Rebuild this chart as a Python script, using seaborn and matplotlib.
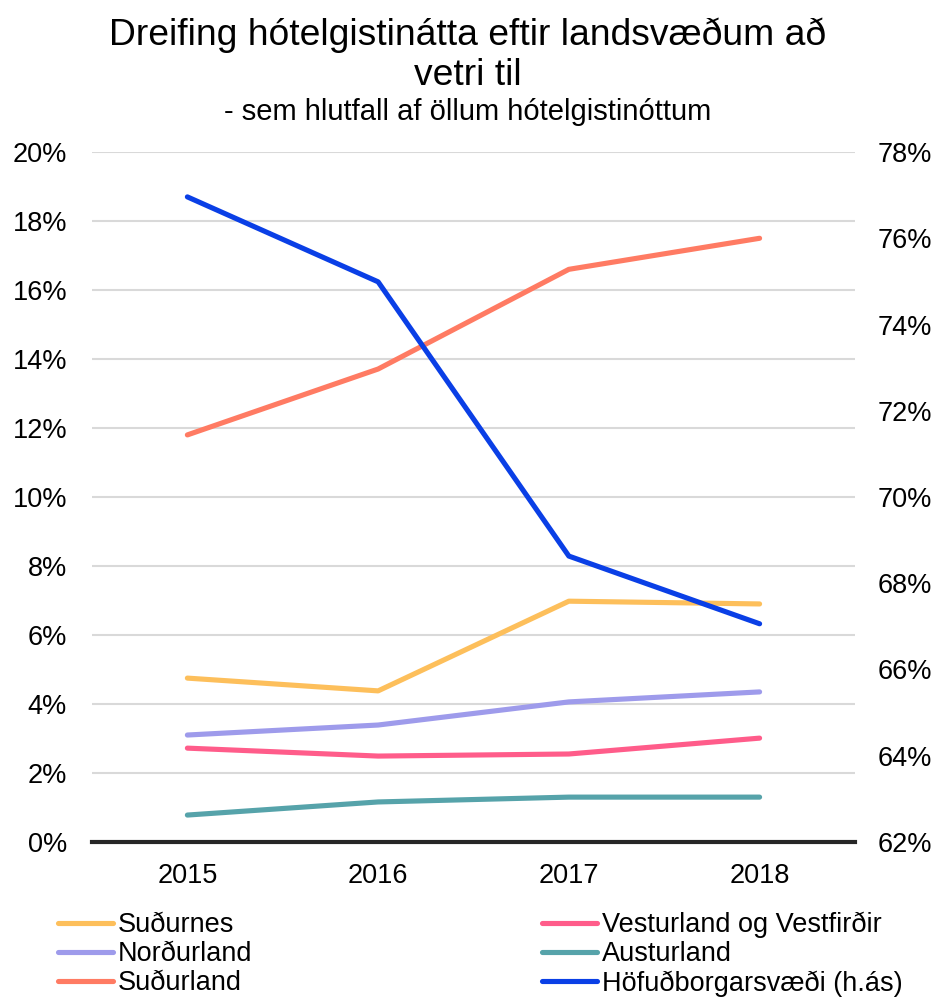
import matplotlib
matplotlib.use("Agg")
import matplotlib.pyplot as plt
import seaborn as sns
import pandas as pd
from matplotlib.ticker import FuncFormatter, MultipleLocator

years = ["2015", "2016", "2017", "2018"]
sudurnes = [4.75, 4.38, 6.98, 6.90]
nordurland = [3.10, 3.39, 4.06, 4.35]
vesturland = [2.72, 2.49, 2.55, 3.01]
austurland = [0.78, 1.16, 1.30, 1.30]
sudurland = [11.80, 13.71, 16.60, 17.50]
hofudborg = [76.96, 74.99, 68.63, 67.06]  # right axis

left_series = {
    "Suðurnes": sudurnes,
    "Norðurland": nordurland,
    "Suðurland": sudurland,
    "Vesturland og Vestfirðir": vesturland,
    "Austurland": austurland,
}
right_name = "Höfuðborgarsvæði (h.ás)"

colors = {
    "Suðurnes": "#FDBF5B",
    "Norðurland": "#9E9BEB",
    "Suðurland": "#FF7B63",
    "Vesturland og Vestfirðir": "#FF5C8A",
    "Austurland": "#56A3AA",
    right_name: "#0A3FE6",
}

sns.set_theme(style="white")
plt.rcParams["font.family"] = ["Liberation Sans", "DejaVu Sans"]
plt.rcParams["text.color"] = "black"

df = pd.DataFrame(
    [(y, name, v) for name, vals in left_series.items() for y, v in zip(years, vals)],
    columns=["year", "region", "share"],
)
df_r = pd.DataFrame({"year": years, "region": right_name, "share": hofudborg})

fig = plt.figure(figsize=(9.35, 9.97), dpi=100)
ax = fig.add_axes([0.0984, 0.1555, 0.816, 0.692])
ax2 = ax.twinx()

lw = 3.7
sns.lineplot(data=df, x="year", y="share", hue="region", palette=colors,
             hue_order=list(left_series.keys()), linewidth=lw, ax=ax,
             legend=False, sort=False)
sns.lineplot(data=df_r, x="year", y="share", color=colors[right_name],
             linewidth=lw, ax=ax2, legend=False, sort=False)
for line in ax.lines + ax2.lines:
    line.set_solid_capstyle("round")
    line.set_solid_joinstyle("round")

ax.set_xlim(-0.5, 3.5)
ax.set_ylim(0, 20)
ax2.set_ylim(62, 78)
ax.yaxis.set_major_locator(MultipleLocator(2))
ax2.yaxis.set_major_locator(MultipleLocator(2))
pct = FuncFormatter(lambda v, p: f"{v:.0f}%")
ax.yaxis.set_major_formatter(pct)
ax2.yaxis.set_major_formatter(pct)

ax.grid(axis="y", color="#D9D9D9", linewidth=1.5)
ax.set_axisbelow(True)
ax2.grid(False)
for a in (ax, ax2):
    for s in a.spines.values():
        s.set_visible(False)
    a.set_xlabel("")
    a.set_ylabel("")
    a.tick_params(length=0, labelsize=19.5, colors="black")
ax.spines["bottom"].set_visible(True)
ax.spines["bottom"].set_color("#262626")
ax.spines["bottom"].set_linewidth(3)
ax.tick_params(axis="x", pad=15)
ax.tick_params(axis="y", pad=18)
ax2.tick_params(axis="y", pad=16)

fig.text(0.5, 1 - 45 / 997, "Dreifing hótelgistinátta eftir landsvæðum að",
         ha="center", va="baseline", fontsize=26.8)
fig.text(0.5, 1 - 85 / 997, "vetri til",
         ha="center", va="baseline", fontsize=26.8)
fig.text(0.5, 1 - 120 / 997, "- sem hlutfall af öllum hótelgistinóttum",
         ha="center", va="baseline", fontsize=21)

order = ["Suðurnes", "Norðurland", "Suðurland",
         "Vesturland og Vestfirðir", "Austurland", right_name]
handles = [plt.Line2D([], [], color=colors[n], linewidth=lw,
                      solid_capstyle="round") for n in order]
fig.legend(handles, order, loc="upper left", bbox_to_anchor=(0.062, 0.0853),
           ncol=2, frameon=False, fontsize=19.5, handlelength=2.04,
           handletextpad=0.18, columnspacing=10.68, labelspacing=0.11,
           borderaxespad=0, borderpad=0)

fig.savefig("out.png", dpi=100)
